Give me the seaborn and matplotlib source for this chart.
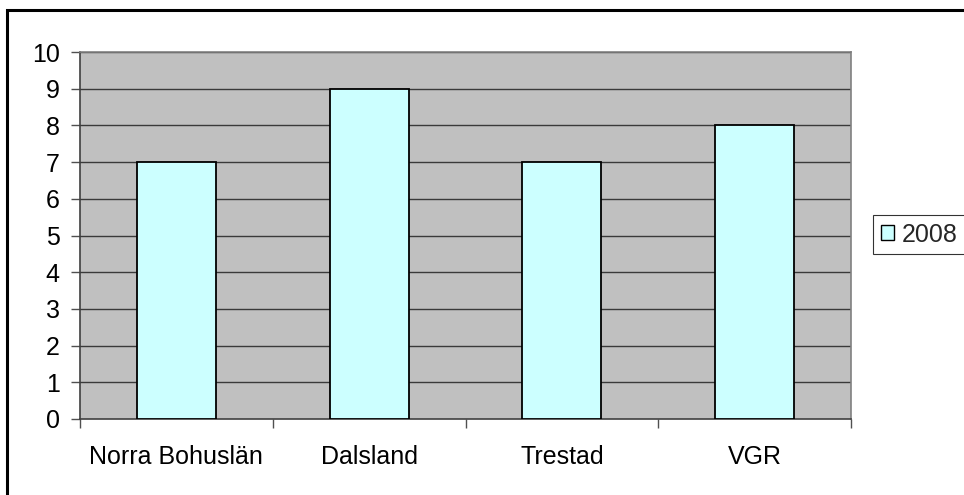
import matplotlib
matplotlib.use("Agg")
import matplotlib.pyplot as plt
import seaborn as sns
import pandas as pd
from matplotlib.patches import Rectangle, Patch

categories = ["Norra Bohuslän", "Dalsland", "Trestad", "VGR"]
values_2008 = [7, 9, 7, 8]
series_name = "2008"
yticks = list(range(0, 11))

sns.set_theme(style="white")
plt.rcParams['font.family'] = ['Liberation Sans', 'DejaVu Sans']

df = pd.DataFrame({"Område": categories, "Värde": values_2008})

W, H = 964, 495
FS = 18
fig = plt.figure(figsize=(W / 100, H / 100), dpi=100)
fig.patch.set_facecolor("white")
ax = fig.add_axes([80 / W, 1 - 419 / H, (851 - 80) / W, (419 - 52) / H])
ax.set_facecolor("#C0C0C0")

sns.barplot(data=df, x="Område", y="Värde", ax=ax, color="#CCFFFF",
            edgecolor="black", linewidth=1.3, width=0.41, saturation=1, zorder=3)

ax.set_ylim(0, 10)
ax.set_xlim(-0.5, len(categories) - 0.5)
ax.set_yticks(yticks)
ax.set_yticklabels([str(t) for t in yticks])
for y in yticks[1:]:
    ax.axhline(y, color="#3a3a3a", linewidth=1.0, zorder=1)

ax.set_xticks([i - 0.5 for i in range(len(categories) + 1)])
ax.set_xticklabels([])
ax.set_xticks(range(len(categories)), minor=True)
ax.set_xticklabels(categories, minor=True)
ax.tick_params(axis="x", which="major", direction="out", length=6.5, width=1, color="#505050", bottom=True)
ax.tick_params(axis="x", which="minor", length=0, pad=18.5, labelsize=FS, labelcolor="black")
ax.tick_params(axis="y", direction="out", length=6.5, width=1, color="#505050", left=True, pad=8,
               labelsize=FS, labelcolor="black")
ax.set_xlabel("")
ax.set_ylabel("")

for side in ["top", "right"]:
    ax.spines[side].set_visible(True)
    ax.spines[side].set_color("#808080")
    ax.spines[side].set_linewidth(1.2)
for side in ["left", "bottom"]:
    ax.spines[side].set_visible(True)
    ax.spines[side].set_color("#404040")
    ax.spines[side].set_linewidth(1.2)

handles = [Patch(facecolor="#CCFFFF", edgecolor="black", linewidth=1.0, label=series_name)]
leg = fig.legend(handles=handles, loc="center left", bbox_to_anchor=(873 / W, 1 - 234.5 / H),
                 frameon=True, fancybox=False, fontsize=FS, handlelength=0.55, handleheight=0.55,
                 handletextpad=0.3, borderpad=0.3, borderaxespad=0)
leg.get_frame().set_edgecolor("black")
leg.get_frame().set_linewidth(0.8)

fig.patches.append(Rectangle((7 / W, -0.1), 1.2, 1 - 10 / H + 0.1, transform=fig.transFigure,
                             fill=False, edgecolor="black", linewidth=2.2))

fig.savefig("out.png", dpi=100)
